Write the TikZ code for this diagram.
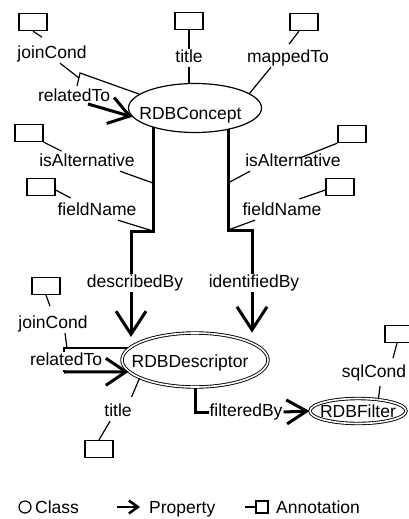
\documentclass[tikz,border=0pt]{standalone}
\usepackage{fontspec}
\setmainfont{Liberation Sans}
\usetikzlibrary{arrows.meta,shapes.geometric}
\pgfdeclarelayer{paper}
\pgfdeclarelayer{wires}
\pgfsetlayers{paper,wires,main}
% class name: horizontal nudge, vertical drop, text (zero-size box so the ellipse keeps its set size)
\newcommand{\clsname}[3]{\makebox[0pt]{\hspace*{#1}\raisebox{#2}[0pt][0pt]{#3}}}
\tikzset{
  txt/.style={font=\fontsize{17.5}{20}\selectfont},
  lbl/.style={txt, fill=white, inner sep=1pt, text height=12.5pt, text depth=3.5pt},
  abox/.style={draw, fill=white, line width=1.3pt, minimum width=28pt, minimum height=17pt, inner sep=0pt},
  cls/.style={txt, ellipse, draw, fill=white, line width=1.2pt, inner sep=0pt},
  cls2/.style={cls, double, double distance=1.6pt, line width=0.9pt},
  ann/.style={line width=1.2pt},
  prop/.style={line width=3pt},
  parrow/.style={prop, -{Straight Barb[length=23pt,width=30pt]}},
  parrowR/.style={prop, -{Straight Barb[length=20pt,width=27pt]}},
  parrowF/.style={prop, -{Straight Barb[length=20pt,width=24pt]}},
}
\begin{document}
\begin{tikzpicture}[x=1pt,y=-1pt]
\path[use as bounding box] (0,0) rectangle (409,519);
\begin{pgfonlayer}{paper}
  \fill[white] (0,0) rectangle (409,519);
\end{pgfonlayer}

% classes
\node[cls, minimum width=133pt, minimum height=49pt] (concept) at (195,108) {\clsname{-9pt}{-11pt}{RDBConcept}};
\node[cls2, minimum width=146pt, minimum height=54pt] (desc) at (195,360) {\clsname{-10pt}{-7pt}{RDBDescriptor}};
\node[cls2, minimum width=96pt, minimum height=25pt] (filt) at (358,411) {\clsname{0pt}{-6.5pt}{RDBFilter}};

% property and annotation labels
\node[lbl] (lTitleA) at (189,58) {title};
\node[lbl] (lMapped) at (288,58) {mappedTo};
\node[lbl] (lJoinA) at (52,54) {joinCond};
\node[lbl] (lRelA) at (74,97) {relatedTo};
\node[lbl] (lAltL) at (87,162) {isAlternative};
\node[lbl] (lFieldL) at (97,211) {fieldName};
\node[lbl] (lAltR) at (293,162) {isAlternative};
\node[lbl] (lFieldR) at (282,211) {fieldName};
\node[lbl] (lDesc) at (135,283) {describedBy};
\node[lbl] (lIdent) at (254,283) {identifiedBy};
\node[lbl] (lJoinB) at (53,324) {joinCond};
\node[lbl] (lRelB) at (66,361) {relatedTo};
\node[lbl] (lTitleB) at (118,412) {title};
\node[lbl] (lFilter) at (246,412) {filteredBy};
\node[lbl] (lSql) at (374,373) {sqlCond};

% annotation boxes
\node[abox] (bTitleA) at (189,21) {};
\node[abox] (bMapped) at (304,22) {};
\node[abox] (bJoinA) at (33,22) {};
\node[abox] (bAltL) at (29,133) {};
\node[abox] (bFieldL) at (41,187) {};
\node[abox] (bAltR) at (352,134) {};
\node[abox] (bFieldR) at (340,187) {};
\node[abox] (bJoinB) at (46,286) {};
\node[abox] (bTitleB) at (99,449) {};
\node[abox] (bSql) at (399,334) {};

% bends of the property lines
\coordinate (kA0) at (80,73);
\coordinate (kA1) at (77,86);
\coordinate (kA) at (79,78);
\coordinate (rA) at (88,104);
\coordinate (dl1) at (153,231);
\coordinate (dl2) at (131,231);
\coordinate (dr1) at (228,230);
\coordinate (dr2) at (252,230);
\coordinate (aL) at (153,183);
\coordinate (aR) at (228,183);
\coordinate (rB1) at (64,348);
\coordinate (rB2) at (64,372);
\coordinate (jB) at (67,348);
\coordinate (fB) at (195,412);

% lines that run under classes and labels
\begin{pgfonlayer}{wires}
  \draw[prop] (concept.center -| dl1) -- (dl1) -- (dl2) -- (lDesc.center -| dl2);
  \draw[prop] (concept.center -| dr1) -- (dr1) -- (dr2) -- (lIdent.center -| dr2);
  \draw[prop] (desc.center -| fB) -- (fB) -- (lFilter.center);
  \draw[ann] (desc.center |- rB1) -- (rB1) -- (rB2);
  \draw[ann] (bTitleA) -- (lTitleA);
  \draw[ann] (lTitleA) -- (concept.center -| lTitleA);
\end{pgfonlayer}

% properties
\draw[ann] (concept.166) -- (kA0) -- (kA1);
\draw[parrowR] (rA) -- (concept.188);
\draw[parrow] (lDesc.south -| dl2) -- (dl2 |- desc.150);
\draw[parrow] (lIdent.south -| dr2) -- (dr2 |- desc.north);
\draw[parrowR] (rB2) -- (desc.190);
\draw[parrowF] (lFilter.east) -- (filt.west);

% annotations
\draw[ann] (bJoinA.south) -- ++(9,6);
\draw[ann] ([xshift=8pt]lJoinA.south) -- (kA);
\draw[ann] ([xshift=-5pt]bMapped.south) -- ++(-10,13);
\draw[ann] ([xshift=-17pt]lMapped.south) -- (concept.15);
\draw[ann] (bAltL.south east) -- ++(18,9);
\draw[ann] ([xshift=33pt]lAltL.south) -- (aL);
\draw[ann] ([yshift=-3pt]bFieldL.east) -- ++(15,8);
\draw[ann] ([xshift=21pt]lFieldL.south) -- (dl1);
\draw[ann] (bAltR.south west) -- ++(-38,15);
\draw[ann] ([xshift=-43pt]lAltR.south) -- (aR);
\draw[ann] ([yshift=-3pt]bFieldR.west) -- ++(-26,9);
\draw[ann] ([xshift=-27pt]lFieldR.south) -- (dr1);
\draw[ann] (bJoinB.south) -- ++(4,11);
\draw[ann] ([xshift=12pt]lJoinB.south) -- (jB);
\draw[ann] (desc.198) -- ++(-8,19);
\draw[ann] ([xshift=-8pt]lTitleB.south) -- (bTitleB.north);
\draw[ann] ([xshift=-2pt]bSql.south) -- ++(-4,15);
\draw[ann] ([xshift=6pt,yshift=-4pt]lSql.south) -- (filt.30);

% legend
\node[draw, circle, line width=1.2pt, minimum size=12pt, inner sep=0pt] (lgC) at (25,507) {};
\node[lbl, anchor=west] (lgCt) at (34,509) {Class};
\coordinate (lgA0) at (117,507);
\coordinate (lgA1) at (140,507);
\draw[line width=2.5pt, -{Straight Barb[length=9pt,width=13pt]}] (lgA0) -- (lgA1);
\node[lbl, anchor=west] (lgPt) at (148,509) {Property};
\node[draw, line width=1.3pt, minimum size=12pt, inner sep=0pt] (lgB) at (262,507) {};
\draw[ann] (lgB.west) -- ++(-10,0);
\node[lbl, anchor=west] (lgBt) at (275,509) {Annotation};
\end{tikzpicture}
\end{document}
